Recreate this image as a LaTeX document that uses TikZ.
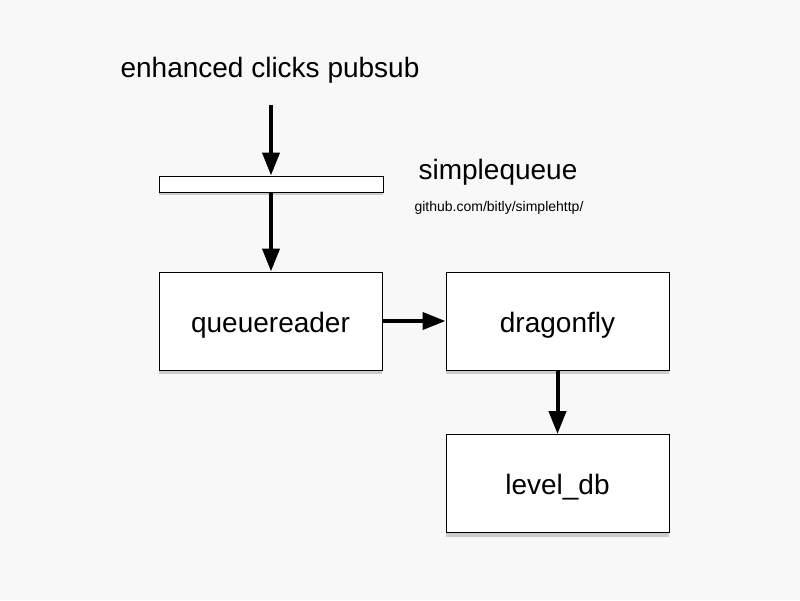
\documentclass[tikz,border=0pt]{standalone}
\usepackage{fontspec}
\setmainfont{Liberation Sans}
\usetikzlibrary{arrows.meta,shadows}
\definecolor{bg}{RGB}{248,248,248}
\tikzset{
  box/.style={draw=black, line width=1pt, fill=white, minimum width=223pt, minimum height=98pt,
    inner sep=0pt, font=\fontsize{28}{34}\selectfont, text height=22pt, text depth=0pt,
    drop shadow={shadow xshift=0pt, shadow yshift=-4pt, opacity=0.3, fill=black!60}},
  barbox/.style={draw=black, line width=1pt, fill=white, minimum width=224pt, minimum height=16pt,
    inner sep=0pt,
    drop shadow={shadow xshift=0pt, shadow yshift=-3pt, opacity=0.3, fill=black!60}},
  bigtxt/.style={font=\fontsize{28}{34}\selectfont, inner sep=2pt, anchor=base},
  smalltxt/.style={font=\fontsize{14}{17}\selectfont, inner sep=1pt, anchor=base},
  arr/.style={line width=4pt, -{Triangle[length=23pt,width=17pt]}}
}
\begin{document}
\begin{tikzpicture}[x=1pt,y=-1pt]
\fill[bg] (0,0) rectangle (800,600);
\useasboundingbox (0,0) rectangle (800,600);
\node[bigtxt] (title) at (270,77) {enhanced clicks pubsub};
\node[barbox] (bar) at (271,184) {};
\node[bigtxt] (sq) at (498,179) {simplequeue};
\node[smalltxt] (gh) at (499,211) {github.com/bitly/simplehttp/};
\node[box] (qr) at (270.5,321) {queuereader};
\node[box] (df) at (557.5,321) {dragonfly};
\node[box] (ldb) at (557.5,483.5) {level\_db};
\draw[arr, shorten <=20pt] (title.south -| bar.north) -- (bar.north);
\draw[arr] (bar.south) -- (bar.south |- qr.north);
\draw[arr] (qr.east) -- (df.west);
\draw[arr] (df.south) -- (ldb.north);
\end{tikzpicture}
\end{document}
